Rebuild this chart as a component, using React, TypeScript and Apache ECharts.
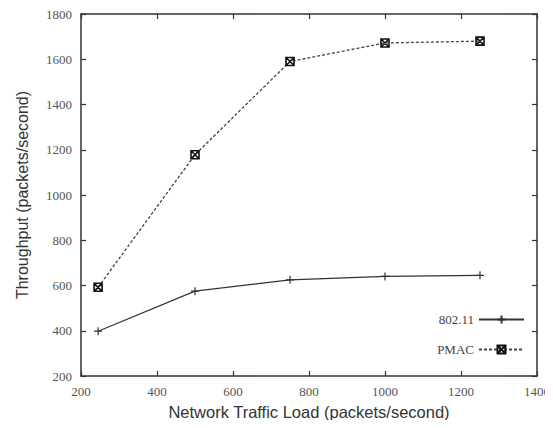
import React, { useEffect, useRef } from "react";
import * as echarts from "echarts";

const loads = [245, 500, 750, 1000, 1250];
const s80211 = [398, 575, 625, 640, 645];
const pmac = [592, 1178, 1590, 1672, 1680];
const seriesNames = ["802.11", "PMAC"];

const plusSymbol = "path://M5,0L5,10M0,5L10,5";
const boxXSymbol = "path://M0,0L10,0L10,10L0,10Z M0,0L10,10 M10,0L0,10";

export default function App() {
  const ref = useRef<HTMLDivElement>(null);
  useEffect(() => {
    const chart = echarts.init(ref.current!, null, { renderer: "svg" });
    const serif = "'Liberation Serif', 'DejaVu Serif', serif";
    const sans = "'Liberation Sans', Arial, sans-serif";
    const axisLine = { show: true, lineStyle: { color: "#333", width: 1.5 } };
    const tick = { show: true, inside: true, length: 5, lineStyle: { color: "#333", width: 1.2 } };
    const fmt = (v: number) => String(v);
    chart.setOption({
      animation: false,
      backgroundColor: "#fff",
      grid: { left: 81, top: 14, right: 12, bottom: 52 },
      xAxis: [
        {
          type: "value", min: 200, max: 1400, interval: 200, position: "bottom",
          name: "Network Traffic Load (packets/second)", nameLocation: "middle", nameGap: 27,
          nameTextStyle: { fontFamily: sans, fontSize: 16.5, color: "#333" },
          axisLine, axisTick: tick, splitLine: { show: false },
          axisLabel: { fontFamily: serif, fontSize: 13, color: "#555", margin: 9, formatter: fmt },
        },
        {
          type: "value", min: 200, max: 1400, interval: 200, position: "top",
          axisLine, axisTick: tick, splitLine: { show: false }, axisLabel: { show: false },
        },
      ],
      yAxis: [
        {
          type: "value", min: 200, max: 1800, interval: 200, position: "left",
          name: "Throughput (packets/second)", nameLocation: "middle", nameGap: 51,
          nameTextStyle: { fontFamily: sans, fontSize: 16, color: "#333" },
          axisLine, axisTick: tick, splitLine: { show: false },
          axisLabel: { fontFamily: serif, fontSize: 13, color: "#555", margin: 9, formatter: fmt },
        },
        {
          type: "value", min: 200, max: 1800, interval: 200, position: "right",
          axisLine, axisTick: tick, splitLine: { show: false }, axisLabel: { show: false },
        },
      ],
      legend: {
        orient: "vertical", right: 24, top: 309, align: "right",
        itemWidth: 45, itemHeight: 10, itemGap: 17,
        backgroundColor: "#fff", padding: [4, 4, 4, 4],
        textStyle: { fontFamily: serif, fontSize: 13, color: "#444" },
        data: seriesNames,
      },
      series: [
        {
          name: seriesNames[0], type: "line",
          data: loads.map((x, i) => [x, s80211[i]]),
          symbol: plusSymbol, symbolSize: 8,
          lineStyle: { color: "#333", width: 1.2, type: "solid" },
          itemStyle: { color: "transparent", borderColor: "#333", borderWidth: 1.2 },
        },
        {
          name: seriesNames[1], type: "line",
          data: loads.map((x, i) => [x, pmac[i]]),
          symbol: boxXSymbol, symbolSize: 8,
          lineStyle: { color: "#444", width: 1.3, type: [3, 2] },
          itemStyle: { color: "transparent", borderColor: "#111", borderWidth: 1.6 },
        },
      ],
    });
    return () => chart.dispose();
  }, []);
  return <div ref={ref} style={{ width: 553, height: 428, margin: -8 }} />;
}
